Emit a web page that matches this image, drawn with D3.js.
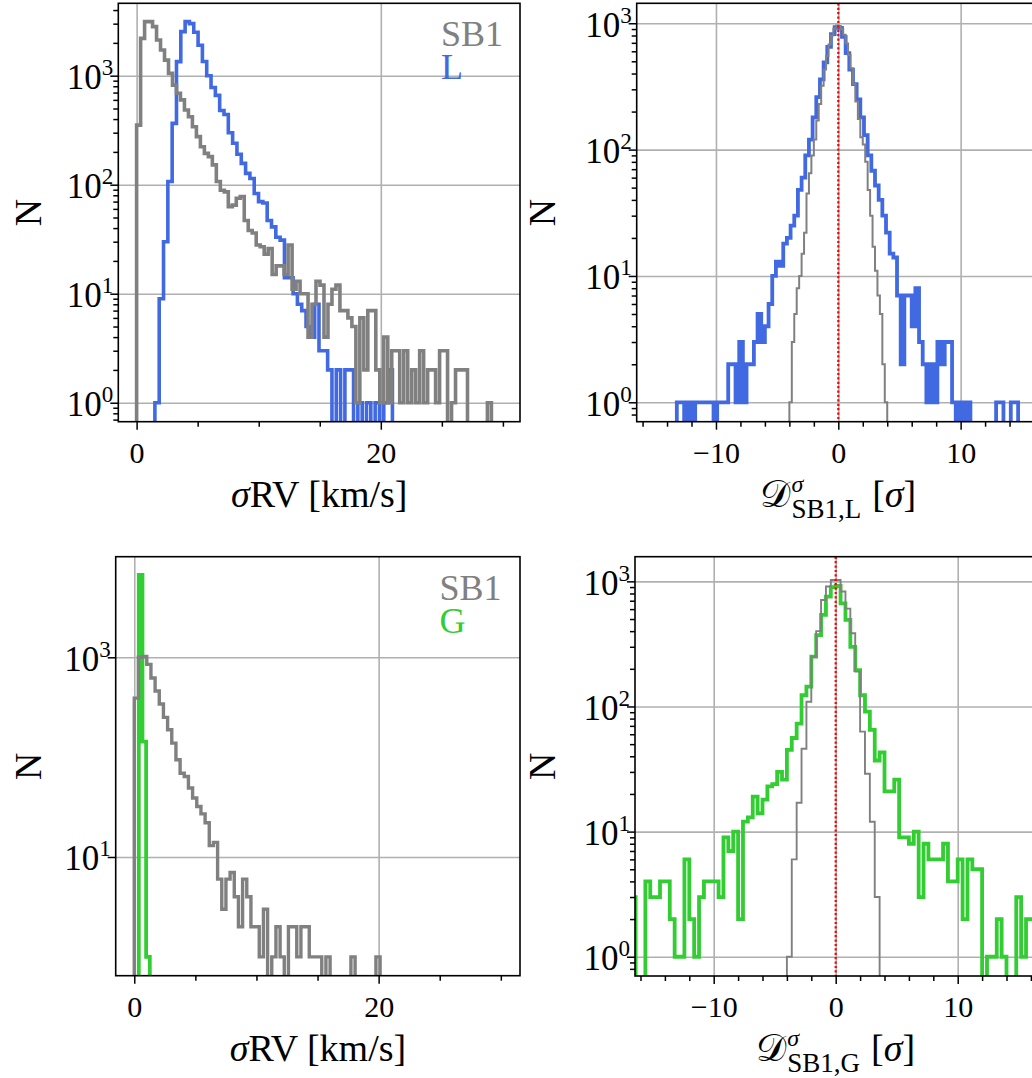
<!DOCTYPE html>
<meta charset="utf-8">
<html>
<head>
<style>
  body { margin: 0; background: #fff; }
  svg { display: block; }
  text { font-family: "Liberation Serif", "DejaVu Serif", serif; }
</style>
</head>
<body>
<script src="https://cdn.jsdelivr.net/npm/d3@7"></script>
<script>
// histogram counts, read off the figure bin by bin
// top left: sigma RV, SB1 (grey) vs L (blue)
const sigSB1L_lo = 0, sigSB1L_step = 0.3265;
const sigSB1L = [
  352, 2200, 3130, 3130, 2820, 2125, 1720, 1390, 1050, 820,
  690, 600, 485, 420, 340, 276, 223, 194, 181, 152,
  107, 89, 86, 63, 65, 75, 78, 47, 38, 36,
  28, 27, 23, 26, 15, 18, 18, 15, 28, 11,
  13, 10, 10, 4, 8, 13, 12, 4, 8, 11,
  12, 7, 7, 6, 5, 1, 6, 2, 7, 7,
  2, 1, 4, 1, 3, 3, 1, 3, 1, 2,
  1, 3, 1, 2, 2, 1, 3, 3, 0, 1,
  2, 2, 2, 0, 0, 0, 0, 0, 1];
const sigL_lo = 1.497, sigL_step = 0.3537;
const sigL = [
  1, 9, 30, 107, 365, 1345, 2535, 3130, 3000, 2500,
  1900, 1350, 1000, 780, 660, 480, 440, 300, 240, 190,
  157, 127, 114, 83, 70, 68, 47, 41, 33, 31,
  14, 14, 10, 8, 7, 5, 4, 8, 3, 3,
  2, 0, 2, 0, 2, 2, 0, 1, 0, 1,
  0, 1, 0, 1, 2];

// top right: deviation D(SB1,L) in sigma
const devSB1L_lo = -4.0, devSB1L_step = 0.2;
const devSB1L = [
  1, 3, 5, 8, 10, 15, 22, 45, 65, 90,
  120, 170, 230, 320, 430, 550, 680, 800, 900, 960,
  950, 900, 810, 690, 560, 440, 330, 240, 175, 125,
  110, 80, 48, 30, 17, 11, 7, 5, 2, 1];
const devL_lo = -13.2, devL_step = 0.3;
const devL = [
  1, 1, 0, 1, 0, 1, 1, 1, 1, 1,
  0, 1, 1, 1, 2, 2, 1, 3, 1, 2,
  2, 3, 5, 3, 4, 6, 10, 13, 12, 18,
  20, 25, 30, 48, 60, 90, 120, 180, 260, 360,
  490, 650, 820, 930, 920, 780, 580, 430, 330, 250,
  180, 130, 90, 68, 52, 40, 30, 22, 15, 14,
  7, 2, 7, 7, 4, 8, 3, 2, 1, 2,
  1, 3, 2, 3, 3, 1, 0, 1, 0, 1,
  0, 0, 0, 0, 0, 0, 0, 1, 1, 0,
  0, 1, 1];

// bottom left: sigma RV, SB1 (grey) vs G (green)
const sigSB1G_lo = 0, sigSB1G_step = 0.341;
const sigSB1G = [
  390, 1000, 1020, 850, 620, 460, 340, 250, 188, 138,
  94, 69, 64, 49, 39, 32, 27, 22, 13, 14,
  6, 3, 6, 7, 4, 2, 6, 4, 2, 2,
  1, 3, 0, 1, 2, 1, 0, 2, 2, 1,
  2, 2, 1, 1, 1, 0, 1, 0, 0, 0,
  0, 0, 1, 0, 0, 0, 0, 0, 1];
const sigG_lo = 0.37, sigG_step = 0.3;
const sigG = [6670, 143, 1];

// bottom right: deviation D(SB1,G) in sigma
const devSB1G_lo = -4.0, devSB1G_step = 0.4;
const devSB1G = [1, 6, 17, 46, 109, 250, 400, 710, 910, 1025,
  1025, 830, 605, 385, 190, 63, 29, 12, 3];
const devG_lo = -16.8, devG_step = 0.4;
const devG = [
  3, 0, 0, 4, 3, 3, 4, 4, 2, 1,
  1, 6, 2, 1, 3, 4, 4, 4, 3, 9,
  7, 10, 2, 12, 13, 19, 14, 18, 23, 24,
  30, 26, 45, 56, 73, 123, 144, 250, 372, 540,
  754, 898, 918, 667, 492, 300, 195, 123, 91, 65,
  37, 43, 21, 21, 26, 9, 9, 8, 10, 3,
  8, 6, 6, 6, 8, 4, 4, 6, 2, 6,
  5, 5, 0, 1, 1, 2, 1, 0, 0, 3,
  1, 2, 2];

// tick values
const sigTicks = [0, 20], sigMinor = [5, 10, 15, 25, 30];
const devTicks = [-10, 0, 10];
const devMinor = [-16, -14, -12, -8, -6, -4, -2, 2, 4, 6, 8, 12, 14, 16];
const decades4 = [1, 10, 100, 1000], decadesOdd = [10, 1000];
const logMinor = [0.7, 0.8, 0.9, 2, 3, 4, 5, 6, 7, 8, 9, 20, 30, 40, 50, 60, 70, 80, 90,
  200, 300, 400, 500, 600, 700, 800, 900, 2000, 3000, 4000, 5000, 6000, 7000, 8000, 9000];

const grey = "#808080", blue = "#4169e1", green = "#32cd32", gridColor = "#b0b0b0";

const svg = d3.select("body").append("svg").attr("width", 1032).attr("height", 1078);

function stepPoints(counts, lo, step) {
  var floor = 1e-3;  // empty bins drop below the axis, like matplotlib's clip
  var pts = [[lo, floor]];
  counts.forEach(function(c, i) {
    var v = c > 0 ? c : floor;
    pts.push([lo + i * step, v], [lo + (i + 1) * step, v]);
  });
  pts.push([lo + counts.length * step, floor]);
  return pts;
}

function addPanel(p) {
  var x = d3.scaleLinear().domain(p.xdom).range([p.left, p.right]);
  var y = d3.scaleLog().domain(p.ydom).range([p.bottom, p.top]);
  var w = p.right - p.left, h = p.bottom - p.top;
  var g = svg.append("g");

  // grid
  var gx = g.append("g").attr("transform", "translate(0," + p.bottom + ")")
    .call(d3.axisBottom(x).tickValues(p.xTicks).tickSize(-h).tickFormat("").tickSizeOuter(0));
  var gy = g.append("g").attr("transform", "translate(" + p.left + ",0)")
    .call(d3.axisLeft(y).tickValues(p.yTicks).tickSize(-w).tickFormat("").tickSizeOuter(0));
  [gx, gy].forEach(function(a) {
    a.select(".domain").remove();
    a.selectAll("line").attr("stroke", gridColor).attr("stroke-width", 1.6);
  });

  // histograms, clipped to the axes box
  svg.append("clipPath").attr("id", "clip" + p.id).append("rect")
    .attr("x", p.left).attr("y", p.top).attr("width", w).attr("height", h);
  var hg = g.append("g").attr("clip-path", "url(#clip" + p.id + ")");
  var line = d3.line().x(function(d) { return x(d[0]); }).y(function(d) { return y(d[1]); });
  p.series.forEach(function(s) {
    hg.append("path")
      .attr("d", line(stepPoints(s.counts, s.lo, s.step)))
      .attr("fill", "none")
      .attr("stroke", s.color)
      .attr("stroke-width", s.lw)
      .attr("stroke-linejoin", "miter");
  });
  if (p.zeroLine) {
    hg.append("line")
      .attr("x1", x(0)).attr("x2", x(0)).attr("y1", p.top).attr("y2", p.bottom)
      .attr("stroke", "red").attr("stroke-width", 2.2).attr("stroke-dasharray", "2.2 2.2");
  }

  // frame
  g.append("rect").attr("x", p.left).attr("y", p.top).attr("width", w).attr("height", h)
    .attr("fill", "none").attr("stroke", "#000").attr("stroke-width", 1.6);

  // x axis
  var xa = g.append("g").attr("transform", "translate(0," + p.bottom + ")")
    .call(d3.axisBottom(x).tickValues(p.xTicks).tickSize(8).tickSizeOuter(0).tickFormat(d3.format("d")));
  xa.selectAll(".tick text").attr("y", 41).attr("dy", null).style("font-size", "30px");
  var xm = g.append("g").attr("transform", "translate(0," + p.bottom + ")")
    .call(d3.axisBottom(x).tickValues(p.xMinor).tickSize(5).tickSizeOuter(0).tickFormat(""));

  // y axis, labels as 10^k
  var ya = g.append("g").attr("transform", "translate(" + p.left + ",0)")
    .call(d3.axisLeft(y).tickValues(p.yTicks).tickSize(8).tickSizeOuter(0).tickFormat(""));
  ya.selectAll(".tick text").each(function(d) {
    var t = d3.select(this).attr("x", -5).attr("y", 13).attr("dy", null).style("font-size", "35px");
    t.append("tspan").text("10");
    t.append("tspan").attr("dy", -14).style("font-size", "23px").text(Math.round(Math.log10(d)));
  });
  var axes = [xa, xm, ya];
  if (p.yMinor) {
    var ym = g.append("g").attr("transform", "translate(" + p.left + ",0)")
      .call(d3.axisLeft(y).tickValues(p.yMinor.filter(function(v) { return v > p.ydom[0] && v < p.ydom[1]; }))
        .tickSize(5).tickSizeOuter(0).tickFormat(""));
    axes.push(ym);
  }
  axes.forEach(function(a) {
    a.select(".domain").remove();
    a.selectAll("line").attr("stroke", "#000").attr("stroke-width", 1.5);
  });

  // N label
  g.append("text")
    .attr("transform", "translate(" + p.nX + "," + (p.top + h / 2) + ") rotate(-90)")
    .attr("text-anchor", "middle").style("font-size", "38px").text("N");

  return g;
}

function sigmaLabel(cx, base) {
  var t = svg.append("text").attr("x", cx).attr("y", base).attr("text-anchor", "middle").style("font-size", "38px");
  t.append("tspan").style("font-style", "italic").text("σ");
  t.append("tspan").text("RV [km/s]");
}

function devLabel(cx, base, who) {
  var lg = svg.append("g");
  var D = lg.append("text").attr("x", 0).attr("y", base).style("font-size", "38px").text("𝒟");
  var dw = D.node().getComputedTextLength();
  var sup = lg.append("text").attr("x", dw + 1).attr("y", base - 15)
    .style("font-size", "24px").style("font-style", "italic").text("σ");
  var sub = lg.append("text").attr("x", dw + 1).attr("y", base + 11)
    .style("font-size", "27px").text("SB1," + who);
  var sw = Math.max(sup.node().getComputedTextLength(), sub.node().getComputedTextLength());
  var r = lg.append("text").attr("x", dw + sw + 12).attr("y", base).style("font-size", "38px");
  r.append("tspan").text("[");
  r.append("tspan").style("font-style", "italic").text("σ");
  r.append("tspan").text("]");
  var bb = lg.node().getBBox();
  lg.attr("transform", "translate(" + (cx - bb.x - bb.width / 2) + ",0)");
}

function legend(x0, b1, b2, second, color) {
  svg.append("text").attr("x", x0).attr("y", b1).style("font-size", "36px").attr("fill", grey).text("SB1");
  svg.append("text").attr("x", x0).attr("y", b2).style("font-size", "36px").attr("fill", color).text(second);
}

// top left
addPanel({
  id: "a", left: 118.3, right: 520, top: 3.3, bottom: 421.7,
  xdom: [-1.5, 31.4], ydom: [Math.pow(10, -0.174), Math.pow(10, 3.664)],
  xTicks: sigTicks, xMinor: sigMinor, yTicks: decades4, yMinor: logMinor, nX: 40.5,
  series: [
    {counts: sigL, lo: sigL_lo, step: sigL_step, color: blue, lw: 3.6},
    {counts: sigSB1L, lo: sigSB1L_lo, step: sigSB1L_step, color: grey, lw: 3.6}
  ]
});
sigmaLabel(319.2, 507);
legend(441, 45.7, 79, "L", blue);

// top right
addPanel({
  id: "b", left: 636.7, right: 1039.9, top: 3.3, bottom: 421.7,
  xdom: [-16.48, 16.48], ydom: [Math.pow(10, -0.1536), Math.pow(10, 3.158)],
  xTicks: devTicks, xMinor: devMinor, yTicks: decades4, yMinor: logMinor, nX: 555, zeroLine: true,
  series: [
    {counts: devL, lo: devL_lo, step: devL_step, color: blue, lw: 3.8},
    {counts: devSB1L, lo: devSB1L_lo, step: devSB1L_step, color: grey, lw: 2.0}
  ]
});
devLabel(838.3, 507, "L");

// bottom left
addPanel({
  id: "c", left: 115.7, right: 520, top: 556.7, bottom: 975.7,
  xdom: [-1.52, 31.57], ydom: [Math.pow(10, -0.189), Math.pow(10, 4.0075)],
  xTicks: sigTicks, xMinor: sigMinor, yTicks: decadesOdd, yMinor: null, nX: 40.5,
  series: [
    {counts: sigG, lo: sigG_lo, step: sigG_step, color: green, lw: 3.8},
    {counts: sigSB1G, lo: sigSB1G_lo, step: sigSB1G_step, color: grey, lw: 3.4}
  ]
});
sigmaLabel(317.9, 1061);
legend(439.5, 600, 632.7, "G", green);

// bottom right
addPanel({
  id: "d", left: 635, right: 1036.4, top: 556.7, bottom: 976,
  xdom: [-16.45, 16.45], ydom: [Math.pow(10, -0.154), Math.pow(10, 3.197)],
  xTicks: devTicks, xMinor: devMinor, yTicks: decades4, yMinor: logMinor, nX: 555, zeroLine: true,
  series: [
    {counts: devG, lo: devG_lo, step: devG_step, color: green, lw: 3.8},
    {counts: devSB1G, lo: devSB1G_lo, step: devSB1G_step, color: grey, lw: 1.9}
  ]
});
devLabel(835.7, 1061, "G");
</script>
</body>
</html>
